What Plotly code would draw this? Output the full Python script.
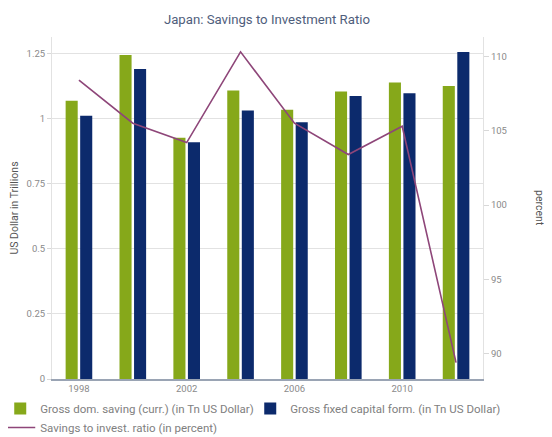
import plotly.graph_objects as go

years = [1998, 2000, 2002, 2004, 2006, 2008, 2010, 2012]
gross_saving = [1.070, 1.246, 0.928, 1.109, 1.035, 1.105, 1.140, 1.127]
gross_fixed_capital = [1.012, 1.192, 0.910, 1.032, 0.987, 1.088, 1.099, 1.257]
ratio_percent = [108.4, 105.5, 104.2, 110.3, 105.5, 103.4, 105.3, 89.4]
x_tick_labels = [1998, 2002, 2006, 2010]

GREEN = "#86a81a"
NAVY = "#0c2a6c"
PURPLE = "#8e4679"
TICK = "#8a8a8a"
FONT = "Roboto"

fig = go.Figure()
fig.add_trace(go.Bar(x=years, y=gross_saving, name="Gross dom. saving (curr.) (in Tn US Dollar)",
                     marker=dict(color=GREEN, line=dict(width=0))))
fig.add_trace(go.Bar(x=years, y=gross_fixed_capital, name="Gross fixed capital form. (in Tn US Dollar)",
                     marker=dict(color=NAVY, line=dict(width=0))))
fig.add_trace(go.Scatter(x=years, y=ratio_percent, name="Savings to invest. ratio (in percent)",
                         mode="lines", line=dict(color=PURPLE, width=1.6), yaxis="y2"))

fig.update_layout(
    width=544, height=429,
    margin=dict(l=44, r=69, t=29, b=58, autoexpand=False),
    paper_bgcolor="white", plot_bgcolor="white",
    font=dict(family=FONT, color=TICK, size=10),
    title=dict(text="Japan: Savings to Investment Ratio", x=0.476, xanchor="center", y=0.974, yanchor="middle",
               font=dict(family=FONT, size=13.2, color="#4f5e7c")),
    barmode="group", bargap=0.46, bargroupgap=0.17,
    showlegend=True,
    legend=dict(orientation="h", x=1.04, xanchor="right", y=-0.044, yanchor="top",
                font=dict(family=FONT, size=11.5, color="#808080"),
                traceorder="normal", itemwidth=30, tracegroupgap=0,
                entrywidth=205, entrywidthmode="pixels"),
    xaxis=dict(range=[1997, 2013], tickmode="array", tickvals=x_tick_labels,
               ticktext=[str(v) for v in x_tick_labels], showgrid=False, automargin=False,
               showline=True, linecolor="#9aa4b4", linewidth=1.5, ticks="",
               tickfont=dict(size=9.5, color=TICK), zeroline=False),
    yaxis=dict(range=[0, 1.315], tickmode="array", tickvals=[0, 0.25, 0.5, 0.75, 1, 1.25],
               ticktext=["0", "0.25", "0.5", "0.75", "1", "1.25"], automargin=False,
               showgrid=True, gridcolor="#e2e2e2", gridwidth=1,
               showline=True, linecolor="#e2e2e2", linewidth=1, ticks="outside", ticklen=4,
               tickcolor="#d8d8d8", zeroline=False,
               title=dict(text="US Dollar in Trillions", font=dict(size=10.5, color="#555"), standoff=12),
               tickfont=dict(size=9.5, color=TICK)),
    yaxis2=dict(range=[88.3, 111.3], overlaying="y", side="right", tickmode="array",
                tickvals=[90, 95, 100, 105, 110], showgrid=False, showline=True, automargin=False,
                linecolor="#e2e2e2", linewidth=1, ticks="outside", ticklen=5, tickcolor="#d8d8d8",
                zeroline=False, tickfont=dict(size=9.5, color=TICK)),
    annotations=[dict(text="percent", textangle=90, xref="paper", yref="paper", x=1.132, y=0.5,
                      xanchor="center", yanchor="middle", showarrow=False,
                      font=dict(family=FONT, size=10.5, color="#555"))],
)

fig.write_html("out.html")
